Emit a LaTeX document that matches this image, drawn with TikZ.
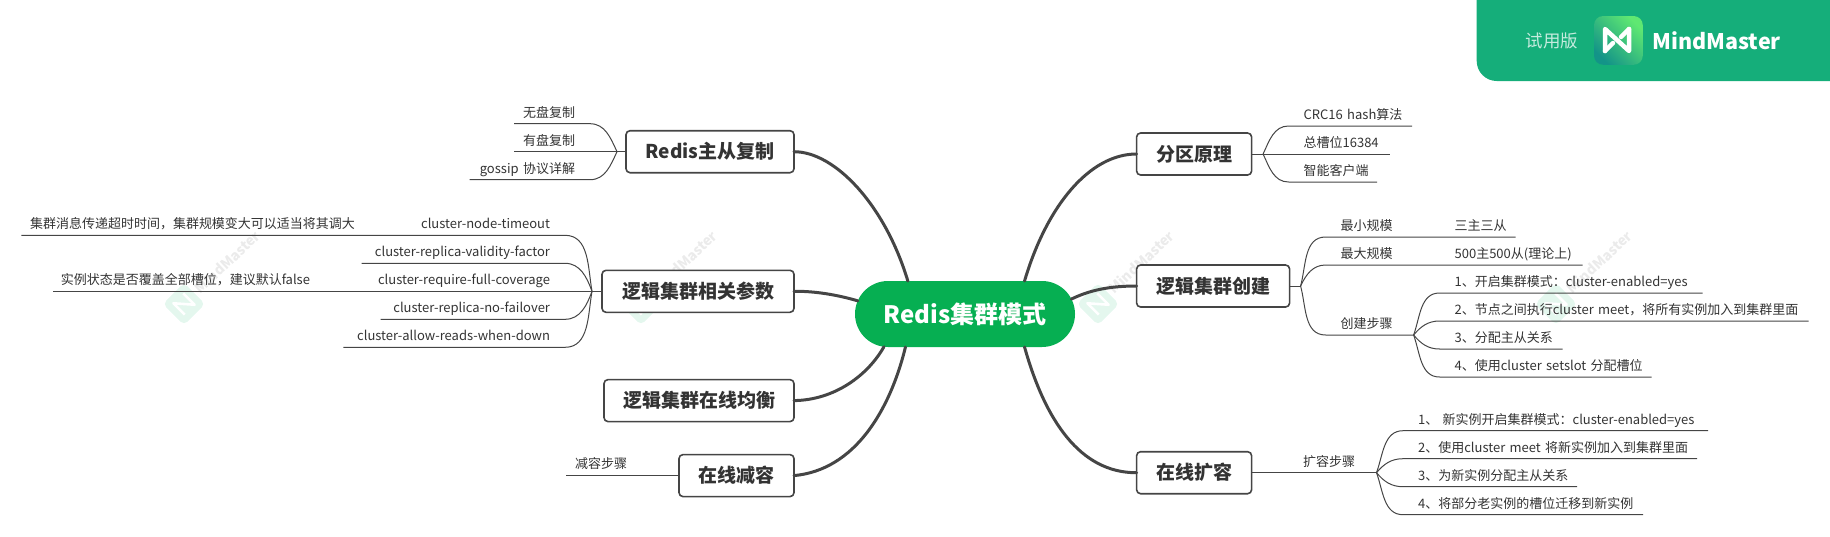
\documentclass[tikz,border=0pt]{standalone}
\usepackage{xcolor}
\usepackage{fontspec}
\setmainfont{Noto Sans CJK SC}
\usepackage{tikz}
\usetikzlibrary{positioning, shapes.misc}

\definecolor{rootgreen}{HTML}{06AF52}
\definecolor{badgegreen}{HTML}{15AE7A}
\definecolor{stem}{HTML}{454545}
\definecolor{ink}{HTML}{333333}
\definecolor{ghost}{HTML}{E4F7EE}
\definecolor{ghosttxt}{HTML}{EBEBEB}
\definecolor{logotop}{HTML}{5FE872}
\definecolor{logoend}{HTML}{139488}

\tikzset{
  root/.style={rounded rectangle, fill=rootgreen, text=white, inner sep=0, outer sep=0, minimum width=220pt, minimum height=66pt, font=\fontsize{24}{28}\selectfont\bfseries},
  branch/.style={draw=stem, line width=1.6, rounded corners=4, fill=white, text=ink, inner sep=0, outer sep=0, minimum height=42pt, font=\fontsize{19}{22}\selectfont\bfseries},
  leaf/.style={inner xsep=0, inner ysep=3pt, outer sep=0, text=ink, text height=10.5pt, text depth=3.7pt, font=\fontsize{13}{15}\selectfont},
  rleaf/.style={leaf, anchor=south west, align=left, execute at begin node={\hspace*{15pt}}},
  lleaf/.style={leaf, anchor=south east, align=right, execute at end node={\hspace*{15pt}}},
  rnext/.style={below=28pt of #1.south west, rleaf},
  lnext/.style={below=28pt of #1.south east, lleaf},
  limb/.style={draw=stem, line width=3, line cap=round},
  twig/.style={draw=stem, line width=1}
}

\begin{document}
\begin{tikzpicture}[x=1pt, y=-1pt]
\useasboundingbox (0,0) rectangle (1830,536);

% watermark %
\foreach \wx in {184,641,1098,1556} {
  \node[rectangle, rotate=45, fill=ghost, rounded corners=5, minimum size=30pt] (mark\wx) at (\wx,304) {};
  \draw[white, line width=2.6, line join=round, shift={(\wx,304)}, rotate=45] (-7,8) -- (-7,-8) -- (7,8) -- (7,-8);
  \node[rotate=43, text=ghosttxt, font=\fontsize{14}{16}\selectfont\bfseries] (word\wx) at (\wx+43,262) {MindMaster};
}

% badge %
\fill[badgegreen] (1476.7,0) [rounded corners=20pt] -- (1476.7,81) [sharp corners] -- (1830,81) -- (1830,0) -- cycle;
\node[rectangle, rounded corners=9, minimum size=48.7pt, inner sep=0, left color=logotop, right color=logoend, shading angle=-45] (logo) at (1618.4,40.4) {};
\draw[white, line width=4.5, line join=round, line cap=round] (1605,51) -- (1605,29) -- (1629,51) -- (1629,29);
\draw[white, line width=4.5, line cap=round] (1605,51) -- (1613,43) (1629,29) -- (1621,37);
\node[left=12pt of logo, text=white!75!badgegreen, font=\fontsize{17.5}{20}\selectfont] (trial) {试用版};
\node[right=6pt of logo, text=white, font=\fontsize{21.5}{26}\selectfont\bfseries] (brand) {MindMaster};

% nodes %
\node[root] (root) at (965,314) {Redis集群模式};

%left%
\node[branch, minimum width=168pt, above left=141.3pt and 61pt of root.west, anchor=south east] (rep) {Redis主从复制};
\node[branch, minimum width=192pt, below=97.6pt of rep.south east, anchor=north east] (param) {逻辑集群相关参数};
\node[branch, minimum width=190pt, below=67.3pt of param.south east, anchor=north east] (balance) {逻辑集群在线均衡};
\node[branch, minimum width=115pt, below=33pt of balance.south east, anchor=north east] (shrink) {在线减容};

%right%
\node[branch, minimum width=115pt, above right=139pt and 61.6pt of root.east, anchor=south west] (slot) {分区原理};
\node[branch, minimum width=153pt, below=90pt of slot.south west, anchor=north west] (create) {逻辑集群创建};
\node[branch, minimum width=115pt, below=144.7pt of create.south west, anchor=north west] (grow) {在线扩容};

%rep%
\coordinate[left=9pt of rep] (repj);
\node[lleaf, text width=76pt, above left=28pt and 27pt of repj] (nodisk) {无盘复制};
\node[lnext=nodisk, text width=76pt] (disk) {有盘复制};
\node[lnext=disk, text width=120.4pt] (gossip) {gossip 协议详解};

%param%
\coordinate[left=10pt of param] (paramj);
\node[text width=170pt, above left=56pt and 27pt of paramj, lleaf] (timeout) {cluster-node-timeout};
\node[text width=348.6pt, left=25pt of timeout.south west, lleaf] (timeoutnote) {集群消息传递超时时间，集群规模变大可以适当将其调大};
\node[lnext=timeout, text width=203.5pt] (validity) {cluster-replica-validity-factor};
\node[lnext=validity, text width=215pt] (coverage) {cluster-require-full-coverage};
\node[text width=272.3pt, left=25pt of coverage.south west, lleaf] (coveragenote) {实例状态是否覆盖全部槽位，建议默认false};
\node[lnext=coverage, text width=184.3pt] (failover) {cluster-replica-no-failover};
\node[lnext=failover, text width=221.6pt] (reads) {cluster-allow-reads-when-down};

%shrink%
\node[text width=76pt, left=37pt of shrink.west, lleaf] (shrinkstep) {减容步骤};

%slot%
\coordinate[right=11.5pt of slot] (slotj);
\node[rleaf, text width=123.5pt, above right=28pt and 25.5pt of slotj] (crc) {CRC16 hash算法};
\node[rnext=crc, text width=101.5pt] (total) {总槽位16384};
\node[rnext=total, text width=88.5pt] (smart) {智能客户端};

%create%
\coordinate[right=11pt of create] (createj);
\node[rleaf, text width=77pt, above right=49pt and 25pt of createj] (least) {最小规模};
\node[text width=76pt, right=37pt of least.south east, rleaf] (leastval) {三主三从};
\node[rnext=least, text width=77pt] (most) {最大规模};
\node[text width=143pt, right=37pt of most.south east, rleaf] (mostval) {500主500从(理论上)};
\node[text width=77pt, below=70pt of most.south west, rleaf] (cstep) {创建步骤};
\coordinate[right=11pt of cstep.south east] (cstepj);
\node[rleaf, text width=263pt, above right=42pt and 26pt of cstepj] (cone) {1、开启集群模式：cluster-enabled=yes};
\node[rnext=cone, text width=369pt] (ctwo) {2、节点之间执行cluster meet，将所有实例加入到集群里面};
\node[rnext=ctwo, text width=123pt] (cthree) {3、分配主从关系};
\node[rnext=cthree, text width=212pt] (cfour) {4、使用cluster setslot 分配槽位};

%grow%
\node[text width=77pt, right=36.5pt of grow.east, rleaf] (gstep) {扩容步骤};
\coordinate[right=11.4pt of gstep.south east] (gstepj);
\node[rleaf, text width=305pt, above right=42pt and 26.6pt of gstepj] (gone) {1、 新实例开启集群模式：cluster-enabled=yes};
\node[rnext=gone, text width=294pt] (gtwo) {2、使用cluster meet 将新实例加入到集群里面};
\node[rnext=gtwo, text width=174pt] (gthree) {3、为新实例分配主从关系};
\node[rnext=gthree, text width=240pt] (gfour) {4、将部分老实例的槽位迁移到新实例};

% edges %

%root%
\draw[limb] (rep.east) .. controls (835,151.7) and (885,205) .. (root.150.5);
\draw[limb] (param.east) .. controls (815,291) and (838,295) .. (root.173);
\draw[limb] (balance.east) .. controls (835,400) and (868,375) .. (root.202);
\draw[limb] (shrink.east) .. controls (855,470) and (890,410) .. (root.209.5);
\draw[limb] (slot.west) .. controls (1090,154) and (1047,205) .. (root.29.6);
\draw[limb] (create.west) .. controls (1110,286) and (1090,290) .. (root.8.5);
\draw[limb] (grow.west) .. controls (1080,473) and (1045,420) .. (root.-29.6);

%rep%
\draw[twig] (repj) to[out=115, in=0] (nodisk.south east) -- (nodisk.south west);
\draw[twig] (rep.west) -- (disk.south east) -- (disk.south west);
\draw[twig] (repj) to[out=-115, in=0] (gossip.south east) -- (gossip.south west);

%param%
\draw[twig] (paramj) to[out=100, in=0] (timeout.south east) -- (timeoutnote.south west);
\draw[twig] (paramj) to[out=110, in=0] (validity.south east) -- (validity.south west);
\draw[twig] (param.west) -- (coveragenote.south west);
\draw[twig] (paramj) to[out=-110, in=0] (failover.south east) -- (failover.south west);
\draw[twig] (paramj) to[out=-100, in=0] (reads.south east) -- (reads.south west);

%shrink%
\draw[twig] (shrink.west) -- (shrinkstep.south west);

%slot%
\draw[twig] (slot.east) -- (slotj);
\draw[twig] (slotj) to[out=65, in=180] (crc.south west) -- (crc.south east);
\draw[twig] (slotj) -- (total.south east);
\draw[twig] (slotj) to[out=-65, in=180] (smart.south west) -- (smart.south east);

%create%
\draw[twig] (create.east) -- (createj);
\draw[twig] (createj) to[out=75, in=180] (least.south west) -- (leastval.south east);
\draw[twig] (createj) to[out=65, in=180] (most.south west) -- (mostval.south east);
\draw[twig] (createj) to[out=-75, in=180] (cstep.south west) -- (cstepj);
\draw[twig] (cstepj) to[out=70, in=180] (cone.south west) -- (cone.south east);
\draw[twig] (cstepj) to[out=50, in=180] (ctwo.south west) -- (ctwo.south east);
\draw[twig] (cstepj) to[out=-50, in=180] (cthree.south west) -- (cthree.south east);
\draw[twig] (cstepj) to[out=-70, in=180] (cfour.south west) -- (cfour.south east);

%grow%
\draw[twig] (grow.east) -- (gstepj);
\draw[twig] (gstepj) to[out=70, in=180] (gone.south west) -- (gone.south east);
\draw[twig] (gstepj) to[out=50, in=180] (gtwo.south west) -- (gtwo.south east);
\draw[twig] (gstepj) to[out=-50, in=180] (gthree.south west) -- (gthree.south east);
\draw[twig] (gstepj) to[out=-70, in=180] (gfour.south west) -- (gfour.south east);

\end{tikzpicture}
\end{document}
